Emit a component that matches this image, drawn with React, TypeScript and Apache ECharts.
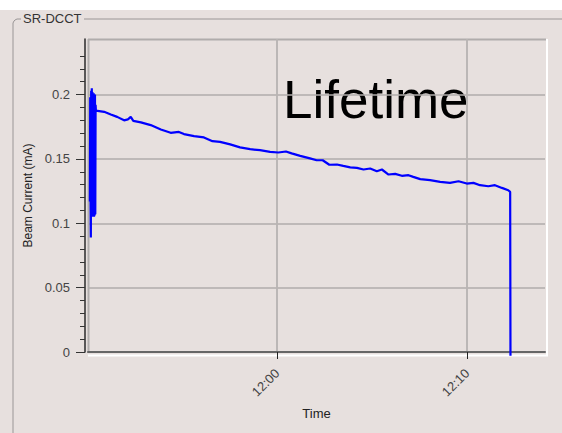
import React, { useEffect, useRef } from "react";
import * as echarts from "echarts";

const DATE = "2024-01-01";

const TIMES = [
  "11:50:09", "11:50:10", "11:50:11", "11:50:12", "11:50:13", "11:50:14", "11:50:15",
  "11:50:16", "11:50:17", "11:50:18", "11:50:19", "11:50:20", "11:50:21", "11:50:22",
  "11:50:23", "11:50:24", "11:50:25", "11:50:26", "11:50:27", "11:50:28",
  "11:50:54", "11:51:15", "11:51:35", "11:51:57", "11:52:09", "11:52:18", "11:52:26",
  "11:52:50", "11:53:21", "11:53:53", "11:54:24", "11:54:50", "11:55:06", "11:55:38",
  "11:56:09", "11:56:36", "11:57:00", "11:57:32", "11:58:03", "11:58:35", "11:59:06",
  "11:59:38", "12:00:04", "12:00:28", "12:00:46", "12:01:13", "12:01:44", "12:02:05",
  "12:02:24", "12:02:45", "12:03:09", "12:03:29", "12:03:51", "12:04:12", "12:04:33",
  "12:04:54", "12:05:15", "12:05:31", "12:05:52", "12:06:13", "12:06:34", "12:06:55",
  "12:07:10", "12:07:32", "12:08:03", "12:08:35", "12:09:06", "12:09:33", "12:09:59",
  "12:10:20", "12:10:41", "12:11:07", "12:11:28", "12:11:50", "12:12:10", "12:12:16",
  "12:12:17",
];

const CURRENT = [
  0.117, 0.198, 0.12, 0.089, 0.203, 0.118, 0.205,
  0.105, 0.202, 0.106, 0.2, 0.105, 0.201, 0.105,
  0.199, 0.106, 0.2, 0.107, 0.192, 0.1875,
  0.1866, 0.1846, 0.1827, 0.18, 0.1807, 0.1827, 0.1796,
  0.1784, 0.1763, 0.1729, 0.1703, 0.171, 0.1693, 0.1677,
  0.1667, 0.1638, 0.1633, 0.1613, 0.159, 0.1576, 0.1568,
  0.1555, 0.155, 0.1558, 0.1543, 0.1524, 0.1504, 0.149,
  0.149, 0.1455, 0.1457, 0.1446, 0.1434, 0.1431, 0.1418,
  0.1426, 0.1405, 0.1418, 0.1379, 0.1384, 0.1369, 0.1374,
  0.1361, 0.1343, 0.1335, 0.1322, 0.1314, 0.1327, 0.1309,
  0.1314, 0.1296, 0.1288, 0.1296, 0.1275, 0.1257, 0.1244,
  -0.003,
];

const X_MIN = "11:50:03";
const X_MAX = "12:14:06";
const X_TICKS = ["12:00", "12:10"];
const Y_MAX = 0.2432;
const Y_TICKS = [0, 0.05, 0.1, 0.15, 0.2];
const Y_MINOR_TICKS = [
  0.01, 0.02, 0.03, 0.04, 0.06, 0.07, 0.08, 0.09, 0.11, 0.12, 0.13, 0.14,
  0.16, 0.17, 0.18, 0.19, 0.21, 0.22, 0.23,
];

const TITLE = "Lifetime";
const GROUP_TITLE = "SR-DCCT";
const X_NAME = "Time";
const Y_NAME = "Beam Current (mA)";

const FONT = "'Liberation Sans', Arial, sans-serif";
const BG = "#e7e0de";

const ts = (t: string) => `${DATE} ${t}`;

export default function App() {
  const ref = useRef<HTMLDivElement>(null);

  useEffect(() => {
    if (!ref.current) return;
    const chart = echarts.init(ref.current, null, { renderer: "svg" });
    const data = TIMES.map((t, i) => [ts(t), CURRENT[i]]);
    const xTickVals = X_TICKS.map((t) => new Date(ts(t + ":00").replace(" ", "T")).getTime());

    chart.setOption({
      animation: false,
      backgroundColor: BG,
      grid: { left: 88, top: 39, width: 457, height: 313, containLabel: false },
      xAxis: {
        type: "time",
        min: ts(X_MIN),
        max: ts(X_MAX),
        minInterval: 600000,
        maxInterval: 600000,
        offset: 9,
        name: X_NAME,
        nameLocation: "middle",
        nameGap: 46,
        nameTextStyle: { fontFamily: FONT, fontSize: 13, color: "#222" },
        axisLine: { show: true, lineStyle: { color: "#666", width: 2 } },
        axisTick: { show: true, length: 7, lineStyle: { color: "#222", width: 1 }, customValues: xTickVals },
        axisLabel: {
          customValues: xTickVals,
          formatter: "{HH}:{mm}",
          rotate: 45,
          margin: 10,
          fontFamily: FONT,
          fontSize: 13,
          color: "#444",
        },
        splitLine: { show: true, lineStyle: { color: "#b8b4b3", width: 1.5 } },
      },
      yAxis: [
        {
          type: "value",
          position: "left",
          min: 0,
          max: Y_MAX,
          interval: 0.05,
          offset: 3,
          name: Y_NAME,
          nameLocation: "middle",
          nameGap: 48,
          nameTextStyle: { fontFamily: FONT, fontSize: 12, color: "#222" },
          axisLine: { show: true, lineStyle: { color: "#2a2a2a", width: 1.5 } },
          axisTick: { show: true, length: 9, lineStyle: { color: "#333", width: 1 }, customValues: Y_TICKS },
          axisLabel: {
            customValues: Y_TICKS,
            formatter: (v: number) => String(Number(v.toFixed(2))),
            margin: 15,
            fontFamily: FONT,
            fontSize: 13,
            color: "#444",
          },
          splitLine: { show: true, lineStyle: { color: "#b0acab", width: 1.5 } },
        },
        {
          type: "value",
          position: "left",
          min: 0,
          max: Y_MAX,
          offset: 3,
          axisLine: { show: false },
          axisTick: { show: true, length: 5, lineStyle: { color: "#333", width: 1 }, customValues: Y_MINOR_TICKS },
          axisLabel: { show: false },
          splitLine: { show: false },
        },
      ],
      graphic: [
        { type: "rect", shape: { x: 0, y: 0, width: 562, height: 10 }, style: { fill: "#ffffff" }, silent: true, z: -10 },
        {
          type: "polyline",
          shape: { points: [[13, 433], [13, 23], [14, 21], [15, 20], [17, 19], [21, 19]] },
          style: { stroke: "#9a9696", lineWidth: 1, fill: null },
          silent: true,
        },
        { type: "line", shape: { x1: 84, y1: 19, x2: 562, y2: 19 }, style: { stroke: "#9a9696", lineWidth: 1 }, silent: true },
        {
          type: "text",
          x: 23,
          y: 18,
          style: { text: GROUP_TITLE, font: `13px ${FONT}`, fill: "#333", verticalAlign: "middle", textAlign: "left" },
          silent: true,
        },
        { type: "line", shape: { x1: 88, y1: 39.5, x2: 546, y2: 39.5 }, style: { stroke: "#b0acab", lineWidth: 2 }, silent: true },
        { type: "line", shape: { x1: 88.5, y1: 39, x2: 88.5, y2: 353 }, style: { stroke: "#b0acab", lineWidth: 2 }, silent: true },
        { type: "line", shape: { x1: 547, y1: 39, x2: 547, y2: 356 }, style: { stroke: "#ffffff", lineWidth: 2 }, silent: true },
        { type: "line", shape: { x1: 88, y1: 355.5, x2: 548, y2: 355.5 }, style: { stroke: "#ffffff", lineWidth: 2 }, silent: true },
        {
          type: "text",
          x: 283,
          y: 99,
          style: { text: TITLE, font: `53px ${FONT}`, fill: "#000", verticalAlign: "middle", textAlign: "left" },
          silent: true,
        },
      ],
      series: [
        {
          type: "line",
          data,
          xAxisIndex: 0,
          yAxisIndex: 0,
          showSymbol: false,
          symbol: "none",
          clip: false,
          z: 5,
          lineStyle: { color: "#0000ff", width: 2.2 },
        },
      ],
    });

    return () => chart.dispose();
  }, []);

  return (
    <div
      ref={ref}
      style={{ position: "absolute", left: 0, top: 0, width: 562, height: 433 }}
    />
  );
}
